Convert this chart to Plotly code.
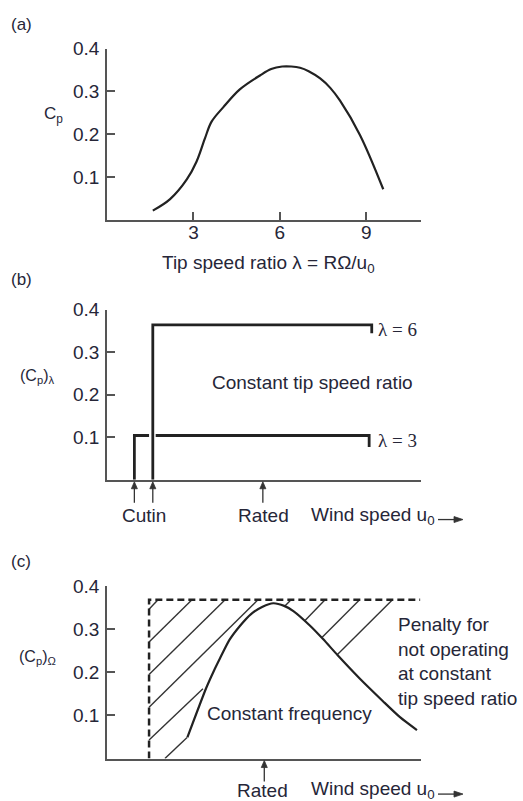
import plotly.graph_objects as go

# ---------------- data ----------------
# (a) Cp vs tip speed ratio
lam_a = [1.59, 2.19, 2.77, 3.11, 3.40, 3.63, 4.04, 4.62, 5.31, 5.70, 6.08, 6.40, 6.70, 7.00, 7.40, 7.75, 8.09, 8.78, 9.59]
cp_a = [0.021, 0.048, 0.094, 0.136, 0.190, 0.229, 0.263, 0.305, 0.337, 0.352, 0.358, 0.358, 0.355, 0.347, 0.330, 0.308, 0.278, 0.198, 0.071]
x_ticks_a = [3, 6, 9]
x_ticklabels_a = ["3", "6", "9"]
y_ticks = [0.1, 0.2, 0.3, 0.4]
y_ticklabels = ["0.1", "0.2", "0.3", "0.4"]

# (b) constant tip speed ratio steps (wind speed in arbitrary units)
u_l6 = [1.59, 1.59, 9.19, 9.19]
cp_l6 = [0.0, 0.364, 0.364, 0.344]
u_l3 = [0.95, 0.95, 1.46, None, 1.69, 9.10, 9.10]
cp_l3 = [0.0, 0.104, 0.104, None, 0.104, 0.104, 0.077]
u_cutin = [0.95, 1.59]
u_rated_b = 5.41

# (c) constant frequency
u_c = [2.79, 3.44, 3.70, 3.92, 4.25, 4.62, 5.00, 5.40, 5.77, 6.15, 6.47, 7.05, 7.50, 8.00, 8.78, 9.58, 10.17, 10.76]
cp_c = [0.049, 0.163, 0.202, 0.232, 0.275, 0.308, 0.335, 0.352, 0.360, 0.354, 0.342, 0.308, 0.277, 0.240, 0.185, 0.133, 0.096, 0.066]
u_env = [1.46, 1.46, 10.87]
cp_env = [0.0, 0.368, 0.368]
# hatch segments: start/end (u, Cp)
hatch_u0 = [1.46, 1.46, 1.46, 1.46, 1.46, 6.15, 2.01, 6.875, 7.47, 8.00]
hatch_cp0 = [0.346, 0.270, 0.195, 0.119, 0.043, 0.352, 0.000, 0.320, 0.281, 0.241]
hatch_u1 = [1.77, 2.95, 4.10, 5.24, 3.33, 6.39, 2.78, 7.57, 8.77, 9.91]
hatch_cp1 = [0.368, 0.368, 0.368, 0.368, 0.162, 0.368, 0.049, 0.368, 0.368, 0.368]
u_rated_c = 5.46

# ---------------- figure ----------------
W, H = 523, 801
TXT = "#262638"
LINE = "#222222"
ARW = "#333333"
FONT = "Liberation Sans"

def px(x):
    return x / W

def py(y):
    return 1 - y / H

fig = go.Figure()

fig.add_trace(go.Scatter(x=lam_a, y=cp_a, mode="lines", line=dict(color=LINE, width=2.2, shape="spline", smoothing=1.0),
                         xaxis="x", yaxis="y", showlegend=False, hoverinfo="skip"))

fig.add_trace(go.Scatter(x=u_l6, y=cp_l6, mode="lines", line=dict(color=LINE, width=2.8),
                         xaxis="x2", yaxis="y2", showlegend=False, hoverinfo="skip"))
fig.add_trace(go.Scatter(x=u_l3, y=cp_l3, mode="lines", line=dict(color=LINE, width=2.8),
                         xaxis="x2", yaxis="y2", showlegend=False, hoverinfo="skip", connectgaps=False))

hx, hy = [], []
for a, b, c, d in zip(hatch_u0, hatch_cp0, hatch_u1, hatch_cp1):
    hx += [a, c, None]
    hy += [b, d, None]
fig.add_trace(go.Scatter(x=hx, y=hy, mode="lines", line=dict(color="#333333", width=1.4),
                         xaxis="x3", yaxis="y3", showlegend=False, hoverinfo="skip"))
fig.add_trace(go.Scatter(x=u_env, y=cp_env, mode="lines", line=dict(color=LINE, width=2.5, dash="7px,4px"),
                         xaxis="x3", yaxis="y3", showlegend=False, hoverinfo="skip"))
fig.add_trace(go.Scatter(x=u_c, y=cp_c, mode="lines", line=dict(color=LINE, width=2.2, shape="spline", smoothing=0.6),
                         xaxis="x3", yaxis="y3", showlegend=False, hoverinfo="skip"))

xdom = [107 / W, 421 / W]
axis_px = [212.3, 475.7, 758]
top_px = [39, 303.3, 583.3]
doms = [[py(b), py(t)] for b, t in zip(axis_px, top_px)]

axis_common = dict(showline=True, linecolor="#555555", linewidth=1.5, showgrid=False, zeroline=False,
                   tickfont=dict(family=FONT, size=19, color=TXT))

lay = dict(width=W, height=H, margin=dict(l=0, r=0, t=0, b=0), paper_bgcolor="white", plot_bgcolor="white",
           showlegend=False)
for i, dom in enumerate(doms):
    s = "" if i == 0 else str(i + 1)
    xa = dict(axis_common, domain=xdom, range=[0, 10.9], anchor="y" + s)
    if i == 0:
        xa.update(ticks="inside", ticklen=8, tickwidth=1.5, tickcolor="#555555", tickvals=x_ticks_a,
                  ticktext=x_ticklabels_a, ticklabelstandoff=-5)
    else:
        xa.update(ticks="", showticklabels=False)
    ya = dict(axis_common, domain=dom, range=[0, 0.4], anchor="x" + s, ticks="inside", ticklen=8,
              tickwidth=1.5, tickcolor="#555555", tickvals=y_ticks, ticktext=y_ticklabels, ticklabelstandoff=2)
    lay["xaxis" + s] = xa
    lay["yaxis" + s] = ya
fig.update_layout(**lay)

ann = []

def text(t, x, y, size=19, xanchor="center", family=FONT, color=TXT, align="center"):
    ann.append(dict(text=t, x=px(x), y=py(y), xref="paper", yref="paper", showarrow=False,
                    xanchor=xanchor, yanchor="middle", align=align,
                    font=dict(family=family, size=size, color=color)))

# panel labels
text("(a)", 21, 15, size=17)
text("(b)", 21, 273, size=17)
text("(c)", 21, 558, size=17)

# axis titles
text("C<sub>p</sub>", 53, 106, size=17)
text("(C<sub>p</sub>)<sub>λ</sub>", 37, 371, size=16)
text("(C<sub>p</sub>)<sub>Ω</sub>", 37, 656, size=16)
text("Tip speed ratio λ = RΩ/u<sub>0</sub>", 268, 257, size=19)

# panel b texts
text("λ = 6", 376, 324, size=19, xanchor="left", family="Liberation Serif")
text("λ = 3", 376, 436, size=19, xanchor="left", family="Liberation Serif")
text("Constant tip speed ratio", 312, 377, size=19)
text("Cutin", 144, 512, size=19)
text("Rated", 263, 512, size=19)
text("Wind speed u<sub>0</sub>", 437, 512, size=19, xanchor="right")

# panel c texts
text("Constant frequency", 289, 712, size=19)
text("Penalty for<br>not operating<br>at constant<br>tip speed ratio", 396, 660, size=19, xanchor="left", align="left")
text("Rated", 262, 790, size=19)
text("Wind speed u<sub>0</sub>", 437, 790, size=19, xanchor="right")
fig.update_layout(annotations=ann)

# arrows as shapes (pixel-sized, x anchored to data, y anchored to the axis line)
shapes = []

def up_arrow(u, xr, axis_y):
    base = dict(xref=xr, yref="paper", xsizemode="pixel", ysizemode="pixel", xanchor=u, yanchor=py(axis_y),
                type="path")
    shapes.append(dict(base, path="M0,-23 L0,-6", line=dict(color=ARW, width=1.3)))
    shapes.append(dict(base, path="M-3,-9 L0,-2 L3,-9 Z", line=dict(color=ARW, width=0.8), fillcolor=ARW))

for u in u_cutin:
    up_arrow(u, "x2", axis_px[1])
up_arrow(u_rated_b, "x2", axis_px[1])
up_arrow(u_rated_c, "x3", axis_px[2])

for yy in (516, 794):
    base = dict(xref="paper", yref="paper", xsizemode="pixel", ysizemode="pixel", xanchor=px(463),
                yanchor=py(yy), type="path")
    shapes.append(dict(base, path="M-25,0 L-6,0", line=dict(color=ARW, width=1.3)))
    shapes.append(dict(base, path="M-9,3 L0,0 L-9,-3 Z", line=dict(color=ARW, width=0.8), fillcolor=ARW))

fig.update_layout(shapes=shapes)
fig.write_html("out.html")
